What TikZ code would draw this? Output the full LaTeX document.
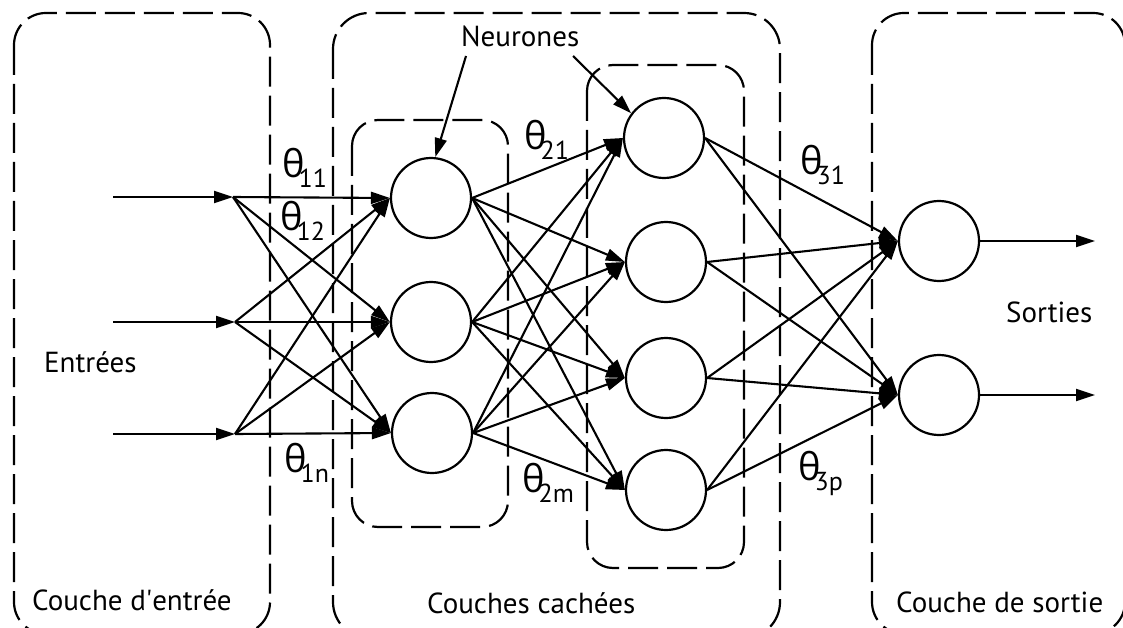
\documentclass[tikz,border=0pt]{standalone}
\usepackage{fontspec}
\setmainfont{PT Sans}
\newfontfamily\thfont{Open Sans}
\newfontfamily\apfont{PT Sans}
\usetikzlibrary{arrows.meta}
\newcommand\thlab[1]{{\thfont\fontsize{38}{38}\selectfont θ}\kern-6pt\raisebox{-10pt}{\fontsize{26}{26}\selectfont #1}}
\begin{document}
\begin{tikzpicture}[x=1pt,y=-1pt,
  dbox/.style={draw, line width=2.2pt, dash pattern=on 30pt off 9pt},
  neuron/.style={draw, circle, line width=2.2pt, minimum size=80pt, inner sep=0pt},
  arr/.style={line width=2.1pt, -{Triangle[length=19pt,width=12pt]}},
  lab/.style={anchor=base west, inner sep=0pt, font=\fontsize{29}{33}\selectfont},
  thl/.style={anchor=base west, inner sep=0pt}]
\useasboundingbox (0,0) rectangle (1123,628);
\clip (0,0) rectangle (1123,628);
% boxes
\draw[dbox, rounded corners=32pt] (14,13) rectangle (270,634);
\draw[dbox, rounded corners=36pt] (333,13) rectangle (780,638);
\draw[dbox, rounded corners=32pt] (872,13) rectangle (1125,634);
\draw[dbox, rounded corners=26pt] (352,120) rectangle (508,527);
\draw[dbox, rounded corners=26pt] (587,65) rectangle (744,568);
% neurons
\node[neuron] (a1) at (431,198) {};
\node[neuron] (a2) at (431,322) {};
\node[neuron] (a3) at (432,433) {};
\node[neuron] (b1) at (664,138) {};
\node[neuron] (b2) at (666,262) {};
\node[neuron] (b3) at (666,378) {};
\node[neuron] (b4) at (666,490) {};
\node[neuron] (c1) at (939,241) {};
\node[neuron] (c2) at (939,395) {};
% input points
\coordinate (s1) at (113,197);
\coordinate (s2) at (113,322);
\coordinate (s3) at (113,434);
\coordinate (i1) at (233,197);
\coordinate (i2) at (235,322);
\coordinate (i3) at (235,434);
\coordinate (o1) at (1095,241);
\coordinate (o2) at (1095,395);
\foreach \k in {1,2,3} {\draw[arr] (s\k) -- (i\k);}
\foreach \k in {1,2,3} {\foreach \m in {1,2,3} {\draw[arr] (i\k) -- (a\m.west);}}
\foreach \k in {1,2,3} {\foreach \m in {1,2,3,4} {\draw[arr] (a\k.east) -- (b\m.west);}}
\foreach \k in {1,2,3,4} {\foreach \m in {1,2} {\draw[arr] (b\k.east) -- (c\m.west);}}
\foreach \k in {1,2} {\draw[arr] (c\k.east) -- (o\k);}
% labels
\node[lab] (neur) at (461,47) {Neurones};
\coordinate (n1) at (466,56);
\coordinate (n2) at (573,56);
\draw[arr] (n1) -- (a1.84);
\draw[arr] (n2) -- (b1.143);
\node[lab] (ent) at (44,372) {Entrées};
\node[lab] (sor) at (1006,322) {Sorties};
\node[lab] (ce) at (32,610) {Couche d{\apfont '}entrée};
\node[lab] (cc) at (427,613) {Couches cachées};
\node[lab] (cs) at (896,612) {Couche de sortie};
\node[thl] (t11) at (282,178) {\thlab{11}};
\node[thl] (t12) at (280,230) {\thlab{12}};
\node[thl] (t1n) at (284,472) {\thlab{1n}};
\node[thl] (t21) at (524,150) {\thlab{21}};
\node[thl] (t2m) at (522,492) {\thlab{2m}};
\node[thl] (t31) at (800,175) {\thlab{31}};
\node[thl] (t3p) at (798,480) {\thlab{3p}};
\end{tikzpicture}
\end{document}
